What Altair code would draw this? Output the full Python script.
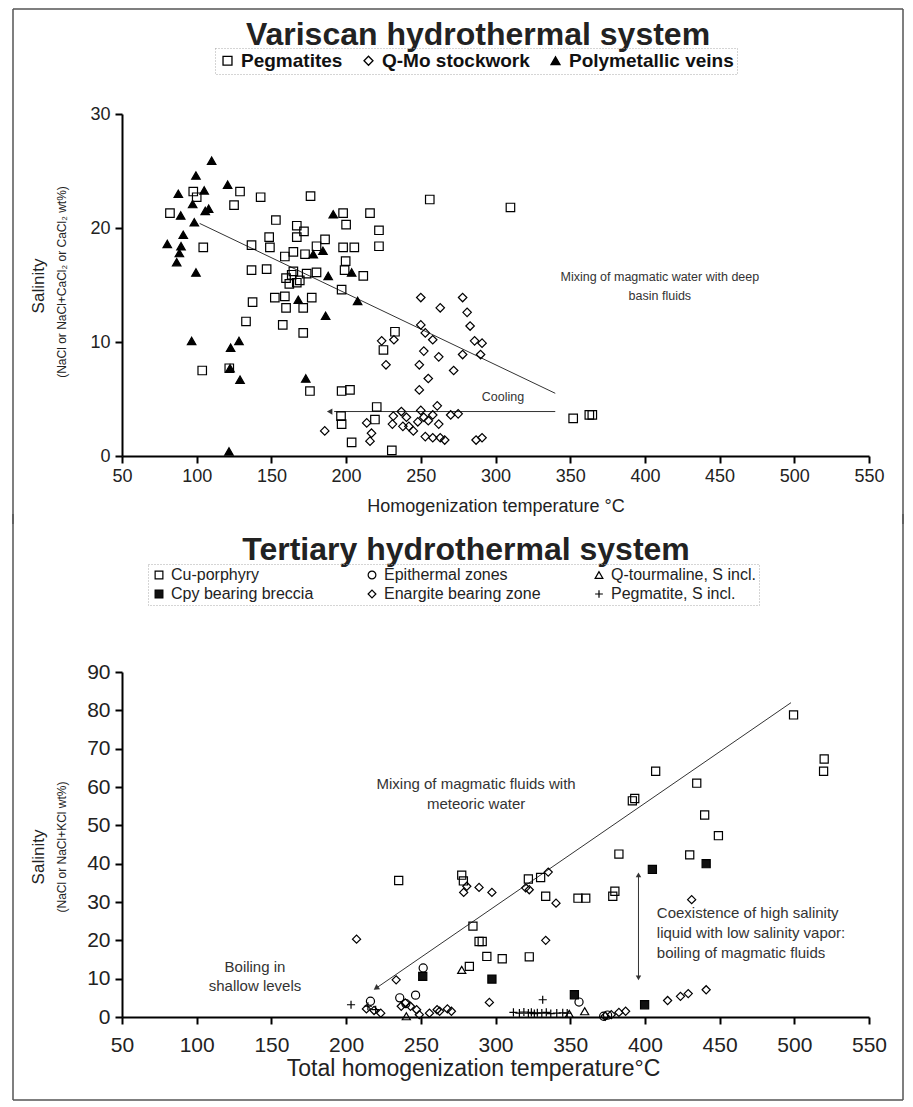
import altair as alt
import pandas as pd

FONT = "Liberation Sans"

# ---------------- Variscan hydrothermal system ----------------
top_series = ["Pegmatites", "Q-Mo stockwork", "Polymetallic veins"]

peg_x = [82.1, 97.7, 100, 129, 125, 142.8, 176.2, 104.4, 198, 200, 153, 167, 171.8, 167, 148.5,
         136.7, 149, 164.7, 185.9, 180.2, 198, 205.5, 159, 172.5, 136.7, 146.8, 164.7, 180.2, 199.7,
         199, 159.8, 167, 162, 173.6, 197, 163.6, 169, 211.5, 152.3, 159, 177, 159.8, 171.3, 137.4,
         133, 157.6, 171.3, 103.7, 121.8, 175.8, 197, 202.6, 220.5, 219.3, 196.6, 197, 203.7, 230.6,
         232.7, 225, 216, 222, 222, 256, 310, 352, 362.8, 364.8]
peg_y = [21.3, 23.2, 22.7, 23.2, 22.0, 22.7, 22.8, 18.3, 21.3, 20.3, 20.7, 20.2, 19.7, 19.2, 19.2,
         18.5, 18.3, 17.9, 19.0, 18.4, 18.3, 18.3, 17.5, 17.7, 16.3, 16.4, 16.2, 16.1, 17.1,
         16.3, 15.6, 15.2, 15.1, 16.0, 14.6, 15.9, 15.4, 15.8, 13.9, 14.0, 13.9, 13.0, 13.0, 13.5,
         11.8, 11.5, 10.8, 7.5, 7.7, 5.7, 5.7, 5.8, 4.3, 3.2, 3.5, 2.8, 1.2, 0.5,
         10.9, 9.3, 21.3, 19.8, 18.4, 22.5, 21.8, 3.3, 3.6, 3.6]

qmo_x = [250, 278, 281, 263, 250, 253, 258, 223.8, 226.7, 232, 283, 286, 291, 290, 278, 262, 249, 252,
         255, 249, 272, 185.7, 213.8, 217, 216, 231.6, 237, 240.4, 231, 238, 242, 245, 248, 250, 252,
         255, 258, 261, 262, 263, 266, 270, 275, 253, 258, 287, 291]
qmo_y = [13.9, 13.9, 12.6, 13.0, 11.5, 10.8, 10.2, 10.1, 8.0, 10.2, 11.4, 10.1, 9.9, 8.9, 8.9, 8.7, 8.0, 9.2,
         6.8, 5.8, 7.5, 2.2, 2.9, 2.0, 1.3, 3.5, 3.9, 3.4, 2.8, 2.6, 2.6, 2.2, 3.0, 4.0, 3.4,
         3.1, 3.6, 4.4, 2.8, 1.6, 1.4, 3.6, 3.7, 1.7, 1.6, 1.4, 1.6]

poly_x = [110, 99.5, 87.7, 105, 120.7, 97.3, 89.3, 108, 105.7, 98.4, 91, 80.3, 89.5, 88.4, 86.6, 99.5,
          191.4, 178, 184.5, 188, 203.7, 96.6, 122.7, 128.3, 122.3, 129, 173, 121.6, 186.3, 207.7,
          168]
poly_y = [25.9, 24.6, 23.0, 23.3, 23.8, 22.1, 21.1, 21.7, 21.5, 20.5, 19.4, 18.6, 18.4, 17.8, 17.0, 16.1,
          21.2, 17.7, 18.0, 15.8, 16.1, 10.1, 9.5, 10.1, 7.7, 6.7, 6.8, 0.4, 12.3, 13.6,
          13.7]

# trend lines / annotations (Variscan)
mix1_x = [102, 340]
mix1_y = [20.4, 5.5]
cool_x = [340, 192]
cool_y = [3.9, 3.9]
top_notes = ["Mixing of magmatic water with deep", "basin fluids", "Cooling"]
top_notes_x = [410, 410, 305]
top_notes_y = [15.7, 14.0, 5.2]

# ---------------- Tertiary hydrothermal system ----------------
bot_series = ["Cu-porphyry", "Epithermal zones", "Q-tourmaline, S incl.",
              "Cpy bearing breccia", "Enargite bearing zone", "Pegmatite, S incl."]

cu_x = [235.2, 277.4, 278.5, 284.9, 289, 291.1, 294.2, 304.5, 322.6, 282.5, 322, 330.2, 333.6, 355.2,
        360.4, 378.5, 379.9, 382.6, 430, 449.2, 440, 434.7, 407.2, 393.2, 391.6, 499.5, 520, 519.6]
cu_y = [35.6, 37.0, 35.5, 23.7, 19.7, 19.7, 15.8, 15.2, 15.7, 13.2, 36.0, 36.4, 31.5, 31.0,
        31.0, 31.5, 32.8, 42.5, 42.3, 47.3, 52.7, 61.0, 64.1, 57.0, 56.4, 78.8, 67.3, 64.1]

epi_x = [216.3, 251.6, 235.9, 246.5, 240, 355.9, 372.4, 375]
epi_y = [4.1, 12.8, 5.0, 5.7, 3.5, 3.9, 0.2, 0.5]

qt_x = [277.4, 240.3, 359.7, 349.4]
qt_y = [12.3, 0.2, 1.5, 0.8]

cpy_x = [251.3, 297.6, 352.8, 399.8, 405, 441]
cpy_y = [10.6, 9.9, 5.8, 3.2, 38.5, 40.0]

en_x = [207, 233.5, 278.7, 280.8, 289, 297.6, 320.2, 322.6, 335.3, 340.5, 333.6, 295.9, 431.3,
        213.6, 218.7, 223.2, 236.9, 239.6, 243.1, 247.2, 249, 255.8, 260.9, 262.6, 267.8, 270.5,
        373.4, 377.5, 382.6, 387.1, 415.2, 423.8, 429, 441]
en_y = [20.3, 9.7, 32.5, 34.1, 33.8, 32.5, 33.7, 33.2, 37.8, 29.7, 20.0, 3.8, 30.6,
        2.1, 1.7, 1.0, 2.8, 3.7, 2.8, 1.9, 0.6, 1.0, 1.9, 1.5, 2.1, 1.5,
        0.2, 0.6, 1.2, 1.5, 4.3, 5.4, 6.1, 7.1]

pg_x = [203.3, 214.6, 219.8, 331.6, 312, 316, 319, 322, 324, 326, 328, 331, 334, 337, 341, 345, 348]
pg_y = [3.2, 2.8, 1.9, 4.5, 1.2, 1.0, 1.3, 1.0, 1.2, 0.9, 1.1, 1.0, 1.2, 0.9, 1.0, 1.1, 1.0]

mix2_x = [497.8, 220]
mix2_y = [82, 7.5]
coex_x = [395.7, 395.7]
coex_y = [10.2, 37.1]
bot_notes = ["Mixing of magmatic fluids with", "meteoric water", "Boiling in", "shallow levels"]
bot_notes_x = [287, 287, 139, 139]
bot_notes_y = [60.8, 55.6, 13.0, 8.0]
coex_notes = ["Coexistence of high salinity", "liquid with low salinity vapor:",
              "boiling of magmatic fluids"]
coex_notes_x = [408, 408, 408]
coex_notes_y = [27.1, 21.9, 16.7]

x_ticks = list(range(50, 551, 50))

GREY = "#333333"
FRAME = "#555555"


def points(series, xs, ys):
    return pd.DataFrame({"T": xs, "S": ys, "series": series})


def label(txt, x, y, size, weight="normal", angle=0):
    kw = dict(fontSize=size, font=FONT, color="#222222", fontWeight=weight)
    if angle:
        kw["angle"] = angle
    return alt.Chart(pd.DataFrame({"t": [txt]})).mark_text(**kw).encode(
        x=alt.value(x), y=alt.value(y), text="t:N")


def vrule(x, y1, y2):
    return alt.Chart(pd.DataFrame({"k": [0]})).mark_rule(color=FRAME, strokeWidth=1.5).encode(
        x=alt.value(x), y=alt.value(y1), y2=alt.value(y2))


def hrule(y, x1, x2):
    return alt.Chart(pd.DataFrame({"k": [0]})).mark_rule(color=FRAME, strokeWidth=1.5).encode(
        y=alt.value(y), x=alt.value(x1), x2=alt.value(x2))


# ---------------- top chart ----------------
df_top = pd.concat([points("Pegmatites", peg_x, peg_y),
                    points("Q-Mo stockwork", qmo_x, qmo_y),
                    points("Polymetallic veins", poly_x, poly_y)], ignore_index=True)

xs_top = alt.X("T:Q", scale=alt.Scale(domain=[50, 550], nice=False, zero=False),
               axis=alt.Axis(values=x_ticks, title="Homogenization temperature °C", labelFlush=False,
                             labelFontSize=18, titleFontSize=18, labelPadding=4, titlePadding=12))
ys_top = alt.Y("S:Q", scale=alt.Scale(domain=[0, 30], nice=False),
               axis=alt.Axis(values=[0, 10, 20, 30], title=None, labelFontSize=18, labelPadding=5))

leg_top = alt.Legend(orient="none", legendX=93, legendY=-66, direction="horizontal", title=None,
                     labelFontSize=19, labelFontWeight="bold", symbolSize=80, columnPadding=16,
                     symbolStrokeWidth=1.3, padding=3, labelColor="#111111", labelLimit=400,
                     strokeColor="#aaaaaa")

pts_top = alt.Chart(df_top).mark_point(filled=True, size=72, strokeWidth=1.2, opacity=1).encode(
    x=xs_top, y=ys_top,
    shape=alt.Shape("series:N", scale=alt.Scale(domain=top_series,
                                                range=["square", "diamond", "triangle-up"]),
                    legend=leg_top),
    fill=alt.Fill("series:N", scale=alt.Scale(domain=top_series,
                                              range=["transparent", "transparent", "black"]),
                  legend=leg_top),
    stroke=alt.Stroke("series:N", scale=alt.Scale(domain=top_series,
                                                  range=["black", "black", "black"]),
                      legend=leg_top),
)

line_top = alt.Chart(pd.DataFrame({"T": mix1_x, "S": mix1_y})).mark_line(
    color=GREY, strokeWidth=1).encode(x=xs_top, y=ys_top)
cool_line = alt.Chart(pd.DataFrame({"T": cool_x, "S": cool_y})).mark_line(
    color=GREY, strokeWidth=1).encode(x=xs_top, y=ys_top)
cool_head = alt.Chart(pd.DataFrame({"T": [cool_x[1] - 3], "S": [cool_y[1]]})).mark_point(
    shape="triangle-left", filled=True, size=40, color=GREY, opacity=1).encode(x=xs_top, y=ys_top)
notes_top = alt.Chart(pd.DataFrame({"T": top_notes_x, "S": top_notes_y, "txt": top_notes})).mark_text(
    fontSize=12.5, font=FONT, color=GREY).encode(x=xs_top, y=ys_top, text="txt:N")

top = alt.layer(
    line_top, cool_line, cool_head, pts_top, notes_top,
    label("Variscan hydrothermal system", 356, -79, 32, "bold"),
    label("Salinity", -83, 172, 17, angle=270),
    label("(NaCl or NaCl+CaCl₂ or CaCl₂ wt%)", -60, 168, 12, angle=270),
    hrule(-105, -109, 781), vrule(-109, -105, 410), vrule(781, -105, 410),
).properties(width=747, height=342)

# ---------------- bottom chart ----------------
df_bot = pd.concat([points("Cu-porphyry", cu_x, cu_y),
                    points("Epithermal zones", epi_x, epi_y),
                    points("Q-tourmaline, S incl.", qt_x, qt_y),
                    points("Cpy bearing breccia", cpy_x, cpy_y),
                    points("Enargite bearing zone", en_x, en_y),
                    points("Pegmatite, S incl.", pg_x, pg_y)], ignore_index=True)

xs_bot = alt.X("T:Q", scale=alt.Scale(domain=[50, 550], nice=False, zero=False),
               axis=alt.Axis(values=x_ticks, title="Total homogenization temperature°C", labelFlush=False,
                             labelFontSize=21, titleFontSize=23, labelPadding=10, titlePadding=2,
                             titleX=351, titleAlign="center"))
ys_bot = alt.Y("S:Q", scale=alt.Scale(domain=[0, 90], nice=False),
               axis=alt.Axis(values=list(range(0, 91, 10)), title=None, labelFontSize=21,
                             labelPadding=5))

leg_bot = alt.Legend(orient="none", legendX=26, legendY=-108, direction="horizontal", columns=3,
                     title=None, labelFontSize=16, labelFontWeight="normal", symbolSize=60,
                     columnPadding=50, rowPadding=3, symbolStrokeWidth=1.2, padding=3,
                     labelColor="#222222", labelLimit=400, strokeColor="#aaaaaa")

plus_path = "M-1,0L1,0M0,-1L0,1"
pts_bot = alt.Chart(df_bot).mark_point(filled=True, size=66, strokeWidth=1.2, opacity=1).encode(
    x=xs_bot, y=ys_bot,
    shape=alt.Shape("series:N", scale=alt.Scale(
        domain=bot_series,
        range=["square", "circle", "triangle-up", "square", "diamond", plus_path]),
        legend=leg_bot),
    fill=alt.Fill("series:N", scale=alt.Scale(
        domain=bot_series,
        range=["transparent", "transparent", "transparent", "#111111", "transparent", "transparent"]),
        legend=leg_bot),
    stroke=alt.Stroke("series:N", scale=alt.Scale(domain=bot_series, range=["black"] * 6),
                      legend=leg_bot),
)

line_bot = alt.Chart(pd.DataFrame({"T": mix2_x, "S": mix2_y})).mark_line(
    color=GREY, strokeWidth=1).encode(x=xs_bot, y=ys_bot)
head_bot = alt.Chart(pd.DataFrame({"T": [mix2_x[1]], "S": [mix2_y[1]]})).mark_point(
    shape="triangle-up", angle=235, filled=True, size=40, color=GREY, opacity=1).encode(
    x=xs_bot, y=ys_bot)
coex_line = alt.Chart(pd.DataFrame({"T": coex_x, "S": coex_y})).mark_line(
    color=GREY, strokeWidth=1).encode(x=xs_bot, y=ys_bot)
coex_down = alt.Chart(pd.DataFrame({"T": [coex_x[0]], "S": [coex_y[0]]})).mark_point(
    shape="triangle-down", filled=True, size=30, color=GREY, opacity=1).encode(x=xs_bot, y=ys_bot)
coex_up = alt.Chart(pd.DataFrame({"T": [coex_x[1]], "S": [coex_y[1]]})).mark_point(
    shape="triangle-up", filled=True, size=30, color=GREY, opacity=1).encode(x=xs_bot, y=ys_bot)
notes_bot = alt.Chart(pd.DataFrame({"T": bot_notes_x, "S": bot_notes_y, "txt": bot_notes})).mark_text(
    fontSize=15, font=FONT, color=GREY).encode(x=xs_bot, y=ys_bot, text="txt:N")
coex_txt = alt.Chart(pd.DataFrame({"T": coex_notes_x, "S": coex_notes_y, "txt": coex_notes})).mark_text(
    fontSize=15, font=FONT, color=GREY, align="left").encode(x=xs_bot, y=ys_bot, text="txt:N")

bottom = alt.layer(
    line_bot, head_bot, coex_line, coex_down, coex_up, pts_bot, notes_bot, coex_txt,
    label("Tertiary hydrothermal system", 344, -122, 32, "bold"),
    label("Salinity", -83, 185, 17, angle=270),
    label("(NaCl or NaCl+KCl wt%)", -60, 175, 12, angle=270),
    hrule(428, -109, 781), vrule(-109, -158, 428), vrule(781, -158, 428),
).properties(width=747, height=345)

chart = alt.vconcat(top, bottom, spacing=-12).resolve_scale(
    shape="independent", fill="independent", stroke="independent").resolve_legend(
    shape="independent", fill="independent", stroke="independent").properties(
    padding={"left": 4, "top": 0, "right": 0, "bottom": 0}
).configure_axis(
    domainColor="black", domainWidth=2, tickColor="black", tickWidth=2, tickSize=7, grid=False,
    labelColor="#222222", titleColor="#222222", labelFont=FONT, titleFont=FONT,
    titleFontWeight="normal"
).configure_view(stroke=None).configure_legend(
    labelFont=FONT, strokeDash=[1, 2], strokeWidth=1
).configure_text(font=FONT)

chart.save("out.html", embed_options={"renderer": "svg", "actions": False})
